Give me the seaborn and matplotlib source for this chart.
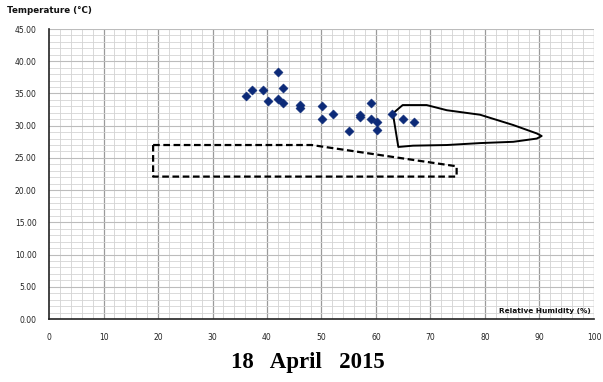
import numpy as np
import pandas as pd
import matplotlib
matplotlib.use("Agg")
import matplotlib.pyplot as plt
import seaborn as sns

# Measured readings: relative humidity (%) and air temperature (°C)
humidity = [36.1, 37.2, 39.2, 42.1, 43.0, 40.1, 42.1, 43.0, 46.1, 46.1, 50.1,
            52.1, 50.1, 55.1, 57.1, 57.1, 59.0, 59.0, 60.1, 60.1, 62.9, 65.0, 67.0]
temperature = [34.6, 35.6, 35.6, 38.4, 35.8, 33.9, 34.1, 33.5, 33.2, 32.8, 33.1,
               31.8, 31.1, 29.2, 31.7, 31.4, 33.5, 31.0, 30.5, 29.4, 31.8, 31.0, 30.5]

# Comfort zone outline (dashed)
zone_dashed_rh = [19.1, 48.2, 74.8, 74.8, 19.1, 19.1]
zone_dashed_t = [27.0, 27.0, 23.7, 22.1, 22.1, 27.0]

# Comfort zone outline (solid)
zone_solid_rh = [63.1, 64.2, 64.9, 69.3, 73.0, 79.1, 85.2, 89.5, 90.4,
                 89.5, 85.2, 79.1, 73.0, 66.8, 64.1, 63.1]
zone_solid_t = [31.9, 32.7, 33.2, 33.2, 32.4, 31.7, 30.1, 28.8, 28.4,
                28.0, 27.5, 27.3, 27.0, 26.9, 26.7, 31.9]

x_ticks = list(range(0, 101, 10))
y_ticks = [0, 5, 10, 15, 20, 25, 30, 35, 40, 45]

sns.set_style("white")
plt.rcParams["font.family"] = ["DejaVu Sans"]

fig = plt.figure(figsize=(6.03, 3.82), dpi=100)
ax = fig.add_axes([0.0813, 0.1649, 0.9037, 0.7591])

ax.set_xlim(0, 100)
ax.set_ylim(0, 45)

# grid: fine lines every 2 % / 1 °C, heavier lines on labelled humidity values
for xv in np.arange(2, 101, 2):
    heavy = xv % 10 == 0
    ax.axvline(xv, color="#9a9a9a" if heavy else "#d2d2d2",
               lw=0.9 if heavy else 0.6, zorder=0)
for yv in np.arange(1, 46, 1):
    heavy = yv % 5 == 0
    ax.axhline(yv, color="#bcbcbc" if heavy else "#d4d4d4",
               lw=0.8 if heavy else 0.6, zorder=0)

df = pd.DataFrame({"rh": humidity, "t": temperature})
sns.scatterplot(data=df, x="rh", y="t", marker="D", s=22, color="#0c2a78",
                edgecolor="#0c2a78", linewidth=0.3, ax=ax, zorder=4)

sns.lineplot(x=zone_dashed_rh, y=zone_dashed_t, sort=False, estimator=None,
             color="black", lw=1.6, ax=ax, zorder=3)
ax.lines[-1].set_linestyle((0, (3, 1.6)))
sns.lineplot(x=zone_solid_rh, y=zone_solid_t, sort=False, estimator=None,
             color="black", lw=1.4, ax=ax, zorder=3)

ax.set_xticks(x_ticks)
ax.set_yticks(y_ticks)
ax.set_xticklabels([str(v) for v in x_ticks], fontsize=5.5)
ax.set_yticklabels([f"{v:.2f}" for v in y_ticks], fontsize=5.5)
ax.tick_params(axis="both", direction="out", length=3, width=0.8,
               color="#333333", pad=6, labelcolor="#222222")
ax.tick_params(axis="x", pad=7)

for side in ["left", "bottom"]:
    ax.spines[side].set_color("#222222")
    ax.spines[side].set_linewidth(1.2)
for side in ["top", "right"]:
    ax.spines[side].set_visible(False)

ax.set_xlabel("")
ax.set_ylabel("")

fig.text(0.012, 0.972, "Temperature (°C)", fontsize=6.3, fontweight="bold",
         ha="left", va="center", color="#111111")
ax.text(99.5, 1.2, "Relative Humidity (%)", fontsize=5.3, fontweight="bold",
        ha="right", va="center", color="#111111", zorder=5)

fig.text(0.511, 0.05, "18   April   2015", fontsize=16.5, fontweight="bold",
         family=["Liberation Serif"], ha="center", va="center", color="black")

fig.savefig("out.png", dpi=100)
